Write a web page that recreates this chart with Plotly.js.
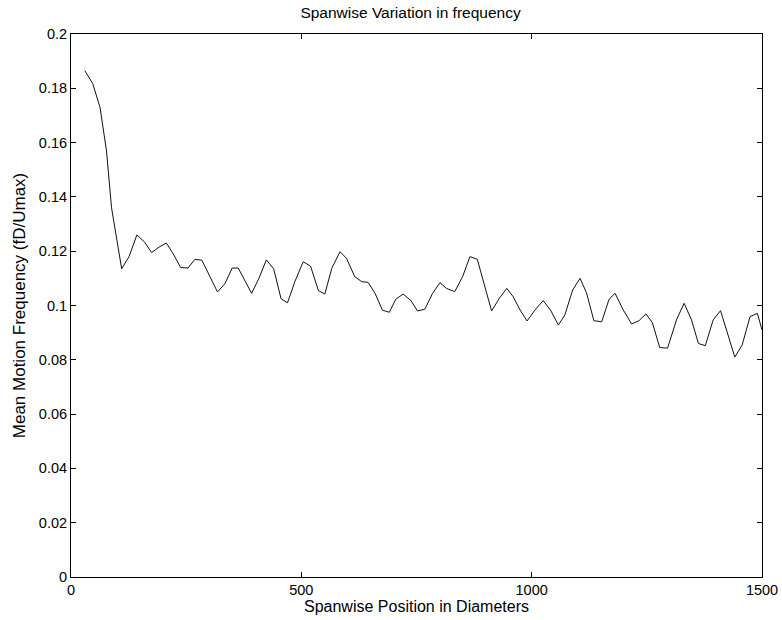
<!DOCTYPE html>
<html>
<head>
<meta charset="utf-8">
<script src="https://cdn.plot.ly/plotly-3.0.1.min.js"></script>
<style>html,body{margin:0;padding:0;background:#fff;}#chart{width:782px;height:620px;}</style>
</head>
<body>
<div id="chart"></div>
<script>
const spanwisePosition = [30, 47, 63, 77, 88, 110, 126, 143, 159, 175, 191, 207, 222, 238, 254, 269, 284, 300, 318, 334, 350, 363, 378, 392, 408, 424, 440, 456, 470, 486, 504, 520, 537, 551, 566, 584, 598, 616, 631, 645, 660, 676, 691, 705, 721, 738, 752, 768, 785, 801, 815, 833, 850, 866, 882, 896, 913, 930, 946, 960, 975, 990, 1007, 1025, 1041, 1058, 1072, 1089, 1105, 1119, 1135, 1152, 1168, 1181, 1199, 1217, 1233, 1248, 1262, 1278, 1295, 1315, 1331, 1347, 1362, 1377, 1394, 1410, 1425, 1441, 1457, 1474, 1490, 1500];
const meanFrequency = [0.1865, 0.1818, 0.173, 0.157, 0.136, 0.1135, 0.118, 0.126, 0.1235, 0.1195, 0.1215, 0.123, 0.119, 0.114, 0.1138, 0.117, 0.1167, 0.111, 0.105, 0.108, 0.1138, 0.1138, 0.109, 0.1045, 0.110, 0.1168, 0.1135, 0.1025, 0.101, 0.1088, 0.1161, 0.1145, 0.1055, 0.1042, 0.1137, 0.1198, 0.1174, 0.1106, 0.1088, 0.1085, 0.1045, 0.0983, 0.0975, 0.1023, 0.1042, 0.1018, 0.098, 0.0986, 0.1045, 0.1084, 0.1063, 0.1051, 0.1106, 0.118, 0.117, 0.1082, 0.098, 0.1027, 0.1063, 0.1032, 0.0983, 0.0943, 0.0983, 0.1018, 0.0983, 0.0928, 0.0965, 0.1057, 0.110, 0.1047, 0.0944, 0.094, 0.1023, 0.1045, 0.0983, 0.0932, 0.0944, 0.0969, 0.0937, 0.0845, 0.0843, 0.095, 0.1008, 0.0947, 0.086, 0.0852, 0.0947, 0.0981, 0.090, 0.081, 0.0855, 0.0959, 0.0971, 0.091];
const xTickValues = [0, 500, 1000, 1500];
const yTickValues = [0, 0.02, 0.04, 0.06, 0.08, 0.1, 0.12, 0.14, 0.16, 0.18, 0.2];

const family = 'Liberation Sans, Arial, sans-serif';
const tickFont = {family: family, size: 14.5, color: '#000'};
const axisCommon = {
  showline: true, linecolor: '#000', linewidth: 1, mirror: 'allticks',
  ticks: 'inside', ticklen: 5, tickcolor: '#000', tickwidth: 1,
  showgrid: false, zeroline: false, tickfont: tickFont
};
Plotly.newPlot('chart', [{
  x: spanwisePosition, y: meanFrequency, type: 'scatter', mode: 'lines',
  line: {color: '#111', width: 1}, showlegend: false, hoverinfo: 'skip'
}], {
  width: 782, height: 620,
  margin: {l: 71, r: 20, t: 34, b: 43},
  paper_bgcolor: '#fff', plot_bgcolor: '#fff',
  font: tickFont,
  title: {text: 'Spanwise Variation in frequency', font: {family: family, size: 15.5, color: '#000'}, x: 0.525, xanchor: 'center', y: 0.98, yanchor: 'middle'},
  xaxis: Object.assign({}, axisCommon, {
    range: [0, 1500], tickmode: 'array', tickvals: xTickValues, ticktext: xTickValues.map(String),
    title: {text: 'Spanwise Position in Diameters', font: {family: family, size: 16, color: '#000'}, standoff: 2}
  }),
  yaxis: Object.assign({}, axisCommon, {
    range: [0, 0.2], tickmode: 'array', tickvals: yTickValues, ticktext: yTickValues.map(v => String(v)),
    title: {text: 'Mean Motion Frequency (fD/Umax)', font: {family: family, size: 17, color: '#000'}, standoff: 8}
  })
}, {displayModeBar: false, staticPlot: true});
</script>
</body>
</html>
